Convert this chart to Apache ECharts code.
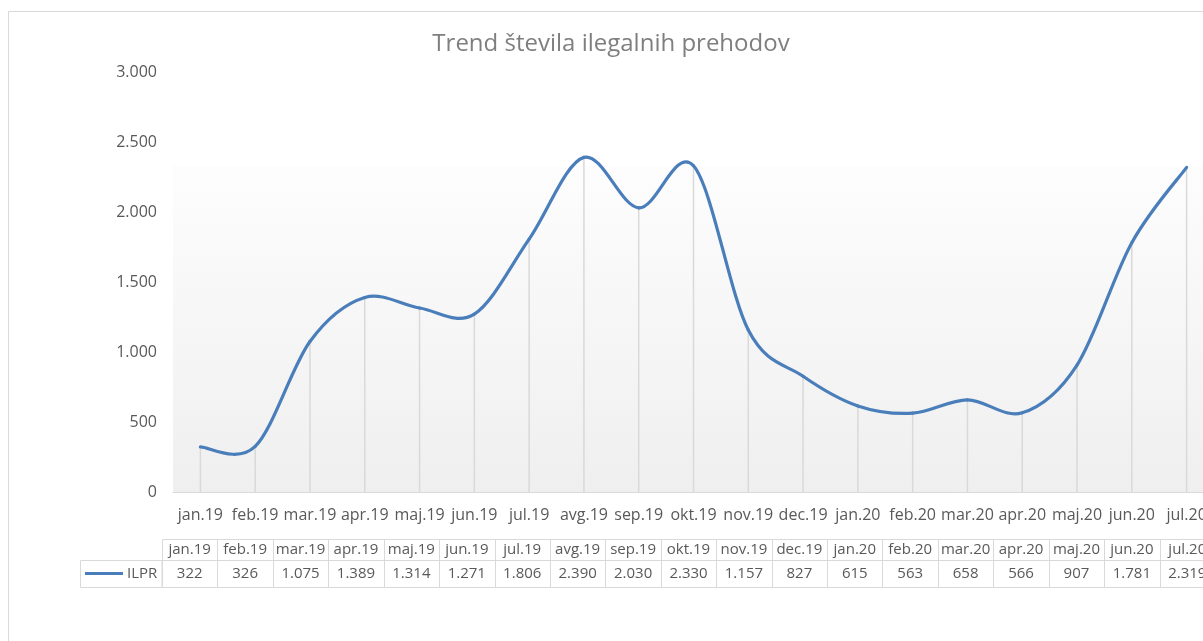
<!DOCTYPE html>
<html>
<head>
<meta charset="utf-8">
<script src="https://cdn.jsdelivr.net/npm/echarts@6/dist/echarts.min.js"></script>
<style>
html,body{margin:0;padding:0;background:#fff;overflow:hidden;width:1203px;height:641px;}
#chart{width:1240px;height:641px;}
</style>
</head>
<body>
<div id="chart"></div>
<script>
const titleText = 'Trend števila ilegalnih prehodov';
const seriesName = 'ILPR';
const categories = ['jan.19','feb.19','mar.19','apr.19','maj.19','jun.19','jul.19','avg.19','sep.19','okt.19','nov.19','dec.19','jan.20','feb.20','mar.20','apr.20','maj.20','jun.20','jul.20'];
const values = [322,326,1075,1389,1314,1271,1806,2390,2030,2330,1157,827,615,563,658,566,907,1781,2319];
const yTicks = [0,500,1000,1500,2000,2500,3000];

function fmt(v){
  return String(v).replace(/\B(?=(\d{3})+(?!\d))/g, '.');
}

const FONT = 'Open Sans';
const TXT = '#595959';
const BORDER = '#d9d9d9';
const LINE = '#4a7ebb';
const HEADER_H = 21;
const N = values.length;

const chart = echarts.init(document.getElementById('chart'));
chart.setOption({
  animation: false,
  textStyle: {fontFamily: FONT},
  title: {
    text: titleText,
    left: 606, top: 27, textAlign: 'center',
    textStyle: {fontFamily: FONT, fontSize: 24, fontWeight: 'normal', color: '#7f7f7f'}
  },
  legend: {
    data: [{name: seriesName, icon: 'rect', itemStyle: {color: LINE}}],
    left: 85, top: 566,
    itemWidth: 38, itemHeight: 3, itemGap: 4,
    padding: 0,
    textStyle: {fontFamily: FONT, fontSize: 15, color: TXT, padding: [0,0,0,-1]}
  },
  graphic: [
    {type: 'rect', shape: {x: 8.5, y: 11.5, width: 1300, height: 700}, style: {fill: 'none', stroke: BORDER, lineWidth: 1}, z: -10},
    {type: 'rect', shape: {x: 80.5, y: 560.5, width: 81.5, height: 27}, style: {fill: 'none', stroke: BORDER, lineWidth: 1}, z: 1}
  ],
  grid: [
    {left: 173, top: 72, width: 1041, height: 420},
    {left: 162, top: 539, width: 1053, height: 48}
  ],
  xAxis: [
    {
      type: 'category', gridIndex: 0, data: categories, boundaryGap: true,
      axisLine: {lineStyle: {color: BORDER, width: 1}},
      axisTick: {show: false},
      axisLabel: {fontFamily: FONT, fontSize: 16, color: TXT, margin: 15, interval: 0}
    },
    {type: 'category', gridIndex: 1, data: categories, show: false}
  ],
  yAxis: [
    {
      type: 'value', gridIndex: 0, min: 0, max: 3000, interval: 500,
      splitLine: {show: false},
      axisLine: {show: false}, axisTick: {show: false},
      axisLabel: {fontFamily: FONT, fontSize: 16, color: TXT, margin: 16, formatter: v => fmt(v)}
    },
    {type: 'value', gridIndex: 1, min: 0, max: 1, show: false}
  ],
  series: [
    {
      type: 'bar', name: 'drop', xAxisIndex: 0, yAxisIndex: 0,
      data: values, barWidth: 1.5, silent: true, z: 1,
      itemStyle: {color: BORDER},
      markArea: {
        silent: true,
        itemStyle: {color: {type: 'linear', x: 0, y: 0, x2: 0, y2: 1, colorStops: [{offset: 0, color: '#fdfdfd'}, {offset: 1, color: '#efefef'}]}},
        data: [[{yAxis: 0}, {yAxis: 2330}]]
      }
    },
    {
      type: 'custom', name: seriesName, xAxisIndex: 0, yAxisIndex: 0, z: 3, silent: true,
      itemStyle: {color: LINE},
      data: values.map((v, i) => [i, v]),
      renderItem: function (params, api) {
        const i = api.value(0);
        if (i >= N - 1) return null;
        const p = k => {
          const kk = Math.max(0, Math.min(N - 1, k));
          return api.coord([kk, values[kk]]);
        };
        const p0 = p(i - 1), p1 = p(i), p2 = p(i + 1), p3 = p(i + 2);
        const t = 6;
        return {
          type: 'bezierCurve',
          shape: {
            x1: p1[0], y1: p1[1], x2: p2[0], y2: p2[1],
            cpx1: p1[0] + (p2[0] - p0[0]) / t, cpy1: p1[1] + (p2[1] - p0[1]) / t,
            cpx2: p2[0] - (p3[0] - p1[0]) / t, cpy2: p2[1] - (p3[1] - p1[1]) / t
          },
          style: {fill: 'none', stroke: LINE, lineWidth: 3.2, lineCap: 'round'}
        };
      }
    },
    {
      type: 'custom', name: 'table', xAxisIndex: 1, yAxisIndex: 1, silent: true,
      data: categories.map((c, i) => [i, 0]),
      renderItem: function (params, api) {
        const i = api.value(0);
        const cx = api.coord([i, 0])[0];
        const w = api.size([1, 0])[0];
        const cs = params.coordSys;
        const x0 = Math.round(cx - w / 2) + 0.5;
        const x1 = Math.round(cx + w / 2) + 0.5;
        const y0 = cs.y + 0.5, y1 = cs.y + HEADER_H + 0.5, y2 = cs.y + cs.height + 0.5;
        return {
          type: 'group',
          children: [
            {type: 'rect', shape: {x: x0, y: y0, width: x1 - x0, height: y1 - y0}, style: {fill: 'none', stroke: BORDER, lineWidth: 1}},
            {type: 'rect', shape: {x: x0, y: y1, width: x1 - x0, height: y2 - y1}, style: {fill: 'none', stroke: BORDER, lineWidth: 1}},
            {type: 'text', style: {x: cx, y: (y0 + y1) / 2, text: categories[i], align: 'center', verticalAlign: 'middle', fontFamily: FONT, fontSize: 15, fill: TXT}},
            {type: 'text', style: {x: cx, y: (y1 + y2) / 2, text: fmt(values[i]), align: 'center', verticalAlign: 'middle', fontFamily: FONT, fontSize: 15, fill: TXT}}
          ]
        };
      }
    }
  ]
});
</script>
</body>
</html>
